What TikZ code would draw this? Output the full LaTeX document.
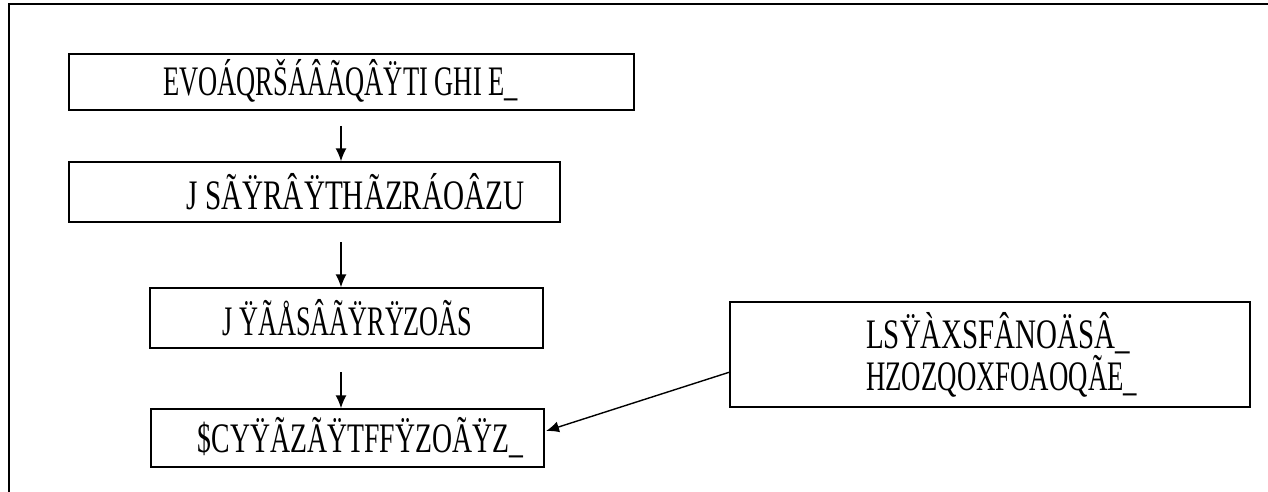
\documentclass[tikz,border=0pt]{standalone}
\usepackage{fontspec}
\setmainfont{Liberation Serif}
\usepackage{graphicx}
\usetikzlibrary{arrows.meta, positioning}

% squeeze a glyph run to a given width, keeping its height
\newcommand{\squeezed}[2]{\resizebox{#1}{\height}{#2}}

\begin{document}
\begin{tikzpicture}[x=1pt, y=-1pt, >={Latex[length=13pt, width=11pt]},
    flowbox/.style={draw=black, line width=1.4pt, inner sep=0pt},
    garble/.style={font=\fontsize{42}{34}\selectfont, inner sep=0pt},
    flowarrow/.style={->, line width=1.4pt}]
  \useasboundingbox (0,0) rectangle (1268,492);
  % outer frame, top and left only
  \draw[line width=1.8pt] (9,492) -- (9,4) -- (1268,4);
  % main column
  \node[flowbox, minimum width=565pt, minimum height=56pt,
        label={[garble, xshift=-11pt, yshift=1pt]center:\squeezed{355pt}{EVOÁQRŠÁÂÃQÂŸTI GHI E\_}}]
        (ask) at (351.5,82) {};
  \node[flowbox, minimum width=491pt, minimum height=60pt,
        label={[garble, xshift=41pt]center:\squeezed{338pt}{J SÃŸRÂŸTHÃZRÁOÂZU}}]
        (sort) at (314.5,192) {};
  \node[flowbox, minimum width=393pt, minimum height=60pt,
        label={[garble, xshift=1pt]center:\squeezed{250pt}{J ŸÃÅSÂÃŸRŸZOÃS}}]
        (check) at (346.5,318) {};
  \node[flowbox, minimum width=393pt, minimum height=58pt,
        label={[garble, xshift=13pt]center:\squeezed{325pt}{\$CYŸÃZÃŸTFFŸZOÃŸZ\_}}]
        (store) at (347.5,438) {};
  % side box
  \node[flowbox, minimum width=520pt, minimum height=105pt] (feed) at (990,354.5) {};
  \node[garble, anchor=west, align=left] (feedtext) at (866,355)
        {\squeezed{264pt}{LSŸÀXSFÂNOÄSÂ\_}\\ \squeezed{271pt}{HZOZQOXFOAOQÃE\_}};
  % connectors
  \coordinate (a1) at (341,126);
  \coordinate (a2) at (341,242);
  \coordinate (a3) at (341,372);
  \draw[flowarrow] (a1) -- (a1 |- sort.north);
  \draw[flowarrow] (a2) -- (a2 |- check.north);
  \draw[flowarrow] (a3) -- (a3 |- store.north);
  \coordinate (f1) at (730,372);
  \coordinate (f2) at (546,431);
  \draw[flowarrow] (f1) -- (f2);
\end{tikzpicture}
\end{document}
